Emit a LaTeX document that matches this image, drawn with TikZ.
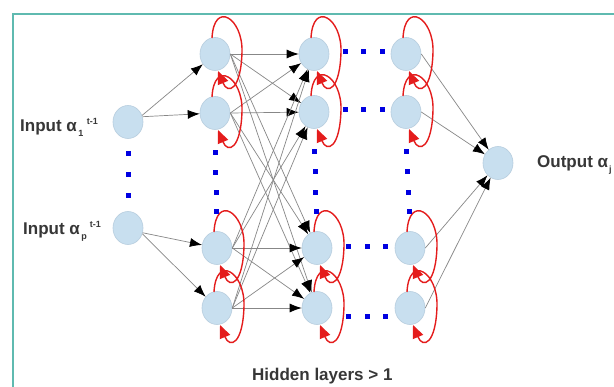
\documentclass[tikz,border=0pt]{standalone}
\usepackage{fontspec}
\setmainfont{Liberation Sans}
\usetikzlibrary{arrows.meta,calc,shapes.geometric}

\definecolor{nodefill}{RGB}{200,223,239}
\definecolor{nodeline}{RGB}{182,205,222}
\definecolor{framecol}{RGB}{95,186,176}
\definecolor{dotblue}{RGB}{0,0,225}
\definecolor{loopred}{RGB}{228,28,28}
\definecolor{labelgray}{RGB}{55,55,55}
\definecolor{linkgray}{RGB}{135,135,135}

% small raised/lowered indices set in the text font
\newcommand\idx[2]{\rlap{\kern1.5pt\raisebox{-4.5pt}{\fontsize{9}{9}\selectfont #1}}\kern10pt\raisebox{7pt}{\fontsize{9}{9}\selectfont #2}}

\begin{document}
\begin{tikzpicture}[x=1pt,y=-1pt,
  unit/.style={ellipse,draw=nodeline,line width=0.6pt,fill=nodefill,
               minimum width=30pt,minimum height=33pt,inner sep=0pt},
  link/.style={draw=linkgray,line width=0.7pt,
               -{Latex[length=12pt,width=9pt,color=black]}},
  selfloop/.style={draw=loopred,line width=1.4pt,
               -{Triangle[length=13pt,width=11pt,color=loopred]}},
  lbl/.style={inner sep=0pt,anchor=base west,text=labelgray,
              font=\bfseries\fontsize{17}{20}\selectfont},
  bdot/.style={fill=dotblue}]

\useasboundingbox (0,0) rectangle (614,387);
\fill[white] (0,0) rectangle (614,387);

% frame, open towards the right and bottom
\draw[framecol,line width=2.2pt] (13,387) -- (13,14) -- (614,14);

% inputs
\node[unit] (i1) at (128,122) {};
\node[unit] (ip) at (128,228) {};
% hidden layer 1
\node[unit] (a1) at (215,54) {};
\node[unit] (a2) at (215,113) {};
\node[unit] (a3) at (217,248) {};
\node[unit] (a4) at (217,308) {};
% hidden layer 2
\node[unit] (b1) at (314,54) {};
\node[unit] (b2) at (314,112) {};
\node[unit] (b3) at (317,248) {};
\node[unit] (b4) at (317,308) {};
% last hidden layer
\node[unit] (c1) at (406,54) {};
\node[unit] (c2) at (406,112) {};
\node[unit] (c3) at (410,248) {};
\node[unit] (c4) at (410,308) {};
% output
\node[unit] (o) at (498,163) {};

% input -> first hidden layer
\draw[link] (i1.25) -- (a1);
\draw[link] (i1.20) -- (a2);
\draw[link] (ip.-18) -- (a3);
\draw[link] (ip.-22) -- (a4);

% first -> second hidden layer, fully connected
\foreach \s in {a1,a2,a3,a4}
  \foreach \t in {b1,b2,b3,b4}
    \draw[link] (\s.east) -- (\t);

% last hidden layer -> output
\foreach \s in {c1,c2,c3,c4}
  \draw[link] (\s.east) -- (o);

% recurrent self connections
\foreach \n in {a1,a2,a3,a4,b1,b2,b3,b4,c1,c2,c3,c4}
  \draw[selfloop] ($(\n)+(-3,-16)$) .. controls +(2,-38) and +(1,-34) ..
        ($(\n)+(27,-2)$) .. controls +(-1,38) and +(10,24) .. ($(\n)+(3,17)$);

% elided units: vertical dots
\foreach \f in {0.2,0.5,0.79}
  \fill[bdot] ($(i1.south)!\f!(ip.north)$) ++(-2.5,-2.5) rectangle ++(5,5);
\foreach \u/\l in {a2/a3,b2/b3,c2/c3}
  \foreach \f in {0.22,0.42,0.62,0.81}
    \fill[bdot] ($(\u.south)!\f!(\l.north)$) ++(-2.5,-2.5) rectangle ++(5,5);

% elided layers: horizontal dots
\foreach \u/\l/\dy in {b1/c1/-2,b2/c2/-2,b3/c3/-1,b4/c4/9}
  \foreach \f in {0.26,0.56,0.86}
    \fill[bdot] ($(\u.east)!\f!(\l.west)+(0,\dy)$) ++(-2.5,-2.5) rectangle ++(5,5);

% labels
\node[lbl] (l1) at (20,132) {Input α\idx{1}{t-1}};
\node[lbl] (l2) at (23,235) {Input α\idx{p}{t-1}};
\node[lbl] (l3) at (537,168) {Output α\rlap{\kern1pt\raisebox{-4.5pt}{\fontsize{9}{9}\selectfont j}}};
\node[lbl] (l4) at (252,381) {Hidden layers > 1};

\end{tikzpicture}
\end{document}
